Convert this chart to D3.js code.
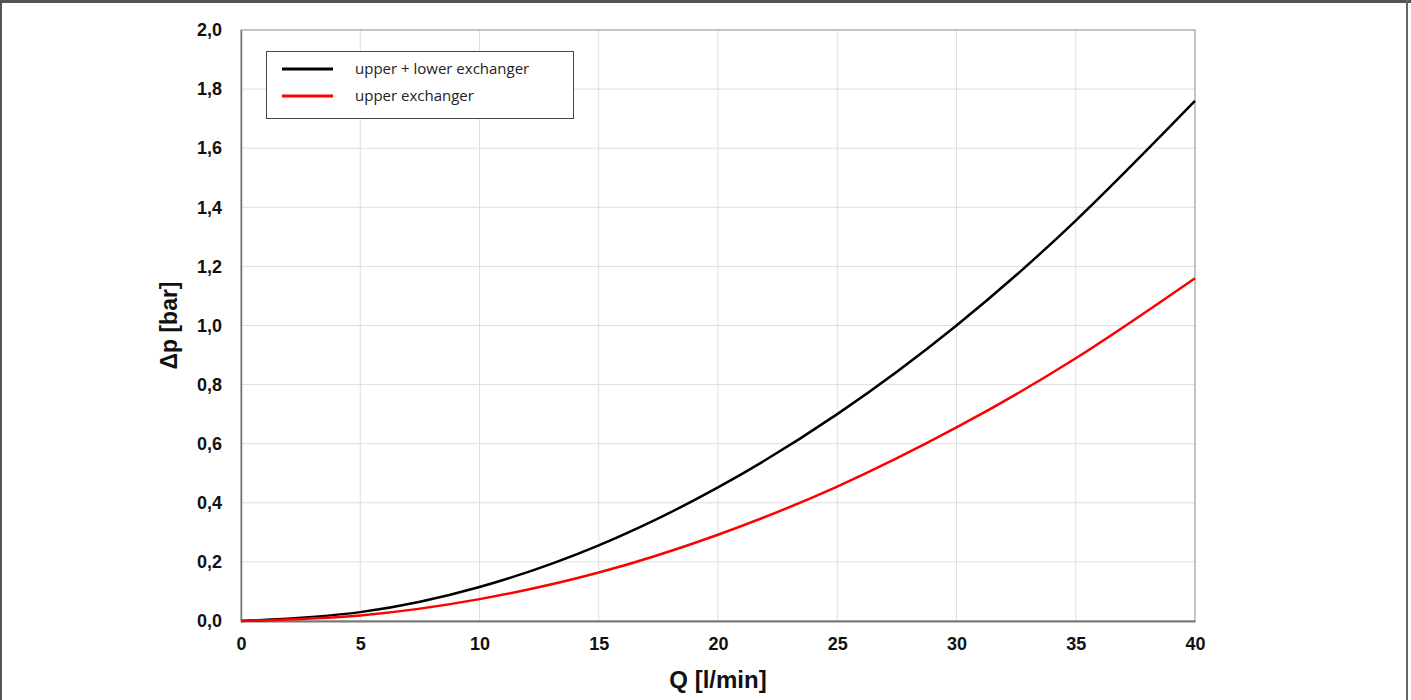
<!DOCTYPE html>
<html>
<head>
<meta charset="utf-8">
<script src="https://cdn.jsdelivr.net/npm/d3@7"></script>
<style>
  html, body { margin: 0; padding: 0; background: #fff; }
  svg { display: block; }
  .tick text { font-family: 'Liberation Sans', Arial, sans-serif; font-weight: bold; font-size: 18px; fill: #111; }
</style>
</head>
<body>
<svg id="chart" width="1411" height="700"></svg>
<script>
const flow = [0, 5, 10, 15, 20, 25, 30, 35, 40];
const upperLower = [0, 0.03, 0.115, 0.256, 0.452, 0.70, 1.0, 1.355, 1.76];
const upperOnly = [0, 0.019, 0.074, 0.164, 0.292, 0.455, 0.655, 0.889, 1.16];
const xTicks = [0, 5, 10, 15, 20, 25, 30, 35, 40];
const yTicks = [0, 0.2, 0.4, 0.6, 0.8, 1.0, 1.2, 1.4, 1.6, 1.8, 2.0];
const seriesNames = ['upper + lower exchanger', 'upper exchanger'];
const seriesColors = ['#000000', '#ff0000'];

const W = 1411, H = 700;
const margin = { left: 241, right: 216, top: 30, bottom: 79 };

const svg = d3.select('#chart');

// outer frame
svg.append('rect').attr('x', 0).attr('y', 0).attr('width', W).attr('height', 3).attr('fill', '#555');
svg.append('rect').attr('x', 0).attr('y', 0).attr('width', 2).attr('height', H).attr('fill', '#555');
svg.append('rect').attr('x', 1406).attr('y', 0).attr('width', 2).attr('height', H).attr('fill', '#666');

const x = d3.scaleLinear().domain([0, 40]).range([margin.left, W - margin.right]);
const y = d3.scaleLinear().domain([0, 2]).range([H - margin.bottom, margin.top]);

// grid
svg.append('g')
  .selectAll('line')
  .data(xTicks.slice(1, -1))
  .join('line')
  .attr('x1', (d) => x(d)).attr('x2', (d) => x(d))
  .attr('y1', y(0)).attr('y2', y(2))
  .attr('stroke', '#dedede').attr('stroke-width', 1);

svg.append('g')
  .selectAll('line')
  .data(yTicks.slice(1, -1))
  .join('line')
  .attr('x1', x(0)).attr('x2', x(40))
  .attr('y1', (d) => y(d)).attr('y2', (d) => y(d))
  .attr('stroke', '#dedede').attr('stroke-width', 1);

// plot border
svg.append('rect')
  .attr('x', x(0)).attr('y', y(2))
  .attr('width', x(40) - x(0)).attr('height', y(0) - y(2))
  .attr('fill', 'none').attr('stroke', '#8a8a8a').attr('stroke-width', 1);

// axes
const fmt = (d) => d3.format('.1f')(d).replace('.', ',');

const xAxis = svg.append('g')
  .attr('transform', `translate(0,${y(0)})`)
  .call(d3.axisBottom(x).tickValues(xTicks).tickSize(0).tickPadding(16).tickFormat(d3.format('d')));
xAxis.select('.domain').attr('stroke', '#777').attr('stroke-width', 2);

const yAxis = svg.append('g')
  .attr('transform', `translate(${x(0)},0)`)
  .call(d3.axisLeft(y).tickValues(yTicks).tickSize(0).tickPadding(19).tickFormat(fmt));
yAxis.select('.domain').attr('stroke', '#777').attr('stroke-width', 1.5);

// axis titles
svg.append('text')
  .attr('x', x(20)).attr('y', 688)
  .attr('text-anchor', 'middle')
  .style('font-family', "'Liberation Sans', Arial, sans-serif")
  .style('font-weight', 'bold').style('font-size', '24px').attr('fill', '#111')
  .text('Q [l/min]');

svg.append('text')
  .attr('transform', `translate(177,${y(1)}) rotate(-90)`)
  .attr('text-anchor', 'middle')
  .style('font-family', "'Liberation Sans', Arial, sans-serif")
  .style('font-weight', 'bold').style('font-size', '23px').attr('fill', '#111')
  .text('Δp [bar]');

// curves
const series = [upperLower, upperOnly];
const line = d3.line()
  .x((d, i) => x(flow[i]))
  .y((d) => y(d))
  .curve(d3.curveNatural);

svg.append('g')
  .selectAll('path')
  .data(series)
  .join('path')
  .attr('d', (d) => line(d))
  .attr('fill', 'none')
  .attr('stroke', (d, i) => seriesColors[i])
  .attr('stroke-width', 2.5);

// legend
const legend = svg.append('g');
legend.append('rect')
  .attr('x', 266.5).attr('y', 51.5).attr('width', 307).attr('height', 67)
  .attr('fill', '#fff').attr('stroke', '#444').attr('stroke-width', 1);

const items = legend.selectAll('g')
  .data(seriesNames)
  .join('g')
  .attr('transform', (d, i) => `translate(0,${69 + i * 27})`);

items.append('line')
  .attr('x1', 282).attr('x2', 333)
  .attr('stroke', (d, i) => seriesColors[i])
  .attr('stroke-width', 3);

items.append('text')
  .attr('x', 355).attr('y', 0).attr('dy', '0.32em')
  .style('font-family', "'Open Sans', 'Noto Sans', sans-serif")
  .style('font-size', '15px').attr('fill', '#222')
  .text((d) => d);
</script>
</body>
</html>
